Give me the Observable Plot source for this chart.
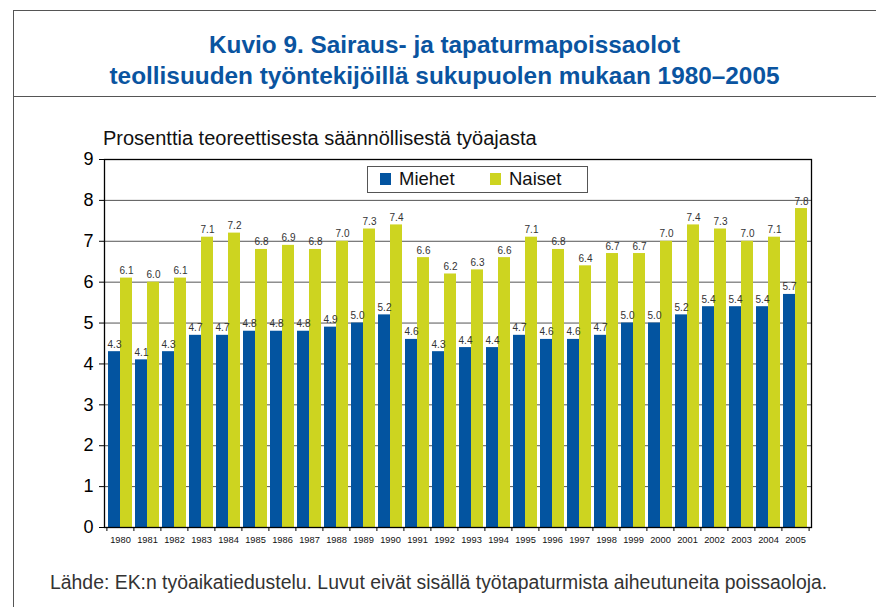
<!DOCTYPE html>
<html>
<head>
<meta charset="utf-8">
<script src="https://cdn.jsdelivr.net/npm/d3@7"></script>
<script src="https://cdn.jsdelivr.net/npm/@observablehq/plot@0.6"></script>
<style>
  html, body { margin: 0; padding: 0; background: #fff; overflow: hidden; }
  #page { position: relative; width: 876px; height: 607px; font-family: "Liberation Sans", Arial, Helvetica, sans-serif; }
  #frame { position: absolute; left: 13px; top: 10px; right: -5px; bottom: -5px; border-left: 1.5px solid #555; border-top: 1.5px solid #555; }
  #sep { position: absolute; left: 13px; right: 0; top: 96px; border-top: 1.5px solid #555; }
  #title { position: absolute; left: 13px; right: 0; top: 29px; color: #0a54a0;
           font-family: "Liberation Sans", Arial, sans-serif;
           font-weight: bold; font-size: 24px; line-height: 31px; }
  .tl { text-align: center; white-space: nowrap; transform-origin: center; }
  #subtitle { position: absolute; left: 103px; top: 127px; font-size: 20px; color: #111; white-space: nowrap; }
  #caption { position: absolute; left: 50px; top: 571px; font-size: 19.4px; color: #333; white-space: nowrap; }
  #chart { position: absolute; left: 0; top: 140px; }
  #legend { position: absolute; left: 367px; top: 166px; width: 219px; height: 25px; border: 1px solid #555; background: #fff; font-size: 18.5px; color: #111; }
  .item { position: absolute; top: 1px; display: flex; align-items: center; }
  .sw { width: 11px; height: 12px; margin-right: 8px; }
</style>
</head>
<body>
<div id="page">
  <div id="frame"></div>
  <div id="sep"></div>
  <div id="title"><div class="tl" id="t1">Kuvio 9. Sairaus- ja tapaturmapoissaolot</div><div class="tl" id="t2">teollisuuden työntekijöillä sukupuolen mukaan 1980–2005</div></div>
  <div id="subtitle">Prosenttia teoreettisesta säännöllisestä työajasta</div>
  <div id="chart"></div>
  <div id="legend"></div>
  <div id="caption">Lähde: EK:n työaikatiedustelu. Luvut eivät sisällä työtapaturmista aiheutuneita poissaoloja.</div>
</div>
<script>
const years = [1980,1981,1982,1983,1984,1985,1986,1987,1988,1989,1990,1991,1992,1993,1994,1995,1996,1997,1998,1999,2000,2001,2002,2003,2004,2005];
const miehet = [4.3,4.1,4.3,4.7,4.7,4.8,4.8,4.8,4.9,5.0,5.2,4.6,4.3,4.4,4.4,4.7,4.6,4.6,4.7,5.0,5.0,5.2,5.4,5.4,5.4,5.7];
const naiset = [6.1,6.0,6.1,7.1,7.2,6.8,6.9,6.8,7.0,7.3,7.4,6.6,6.2,6.3,6.6,7.1,6.8,6.4,6.7,6.7,7.0,7.4,7.3,7.0,7.1,7.8];
const seriesNames = ["Miehet", "Naiset"];
const seriesColors = ["#0354a0", "#cdd420"];
const yTicks = [0,1,2,3,4,5,6,7,8,9];

const data = years.map((year, i) => ({year, miehet: miehet[i], naiset: naiset[i]}));

const chart = Plot.plot({
  width: 876,
  height: 430,
  marginTop: 19,
  marginBottom: 43,
  marginLeft: 104,
  marginRight: 65,
  style: {fontFamily: "'Liberation Sans', Arial, sans-serif", background: "transparent", color: "#000"},
  x: {type: "band", domain: years, paddingInner: 0.12, paddingOuter: 0.06},
  y: {domain: [0, 9]},
  marks: [
    Plot.gridY(yTicks, {stroke: "#555", strokeOpacity: 1, strokeWidth: 1}),
    Plot.barY(data, {x: "year", y: "miehet", fill: seriesColors[0], insetRight: 12}),
    Plot.barY(data, {x: "year", y: "naiset", fill: seriesColors[1], insetLeft: 12}),
    Plot.text(data, {x: "year", y: "miehet", text: d => d.miehet.toFixed(1), dx: -6, dy: -4, lineAnchor: "bottom", fontSize: 10, fill: "#333"}),
    Plot.text(data, {x: "year", y: "naiset", text: d => d.naiset.toFixed(1), dx: 6, dy: -4, lineAnchor: "bottom", fontSize: 10, fill: "#333"}),
    Plot.frame({stroke: "#000", strokeWidth: 1.3}),
    Plot.axisY(yTicks, {tickSize: 5, tickPadding: 6, fontSize: 18, label: null, stroke: "#000"}),
    Plot.axisX({tickSize: 0, tickPadding: 9, fontSize: 9.3, label: null, fill: "#111", tickFormat: d => String(d)}),
    Plot.axisX({tickSize: 4, dx: -13.6, tickFormat: () => "", label: null, stroke: "#000"}),
    Plot.axisX([2005], {tickSize: 4, dx: 13.6, tickFormat: () => "", label: null, stroke: "#000"})
  ]
});
document.getElementById("chart").appendChild(chart);

const legend = document.getElementById("legend");
const lefts = [12, 122];
seriesNames.forEach((name, i) => {
  const item = document.createElement("div");
  item.className = "item";
  item.style.left = lefts[i] + "px";
  item.innerHTML = `<span class="sw" style="background:${seriesColors[i]}"></span><span>${name}</span>`;
  legend.appendChild(item);
});

// fit title width to the reference's condensed face
(function fitTitle() {
  const t2 = document.getElementById("t2");
  const r = document.createRange();
  r.selectNodeContents(t2);
  const w = r.getBoundingClientRect().width;
  const k = 670 / w;
  document.querySelectorAll(".tl").forEach(el => { el.style.transform = `scaleX(${k})`; });
})();
</script>
</body>
</html>
